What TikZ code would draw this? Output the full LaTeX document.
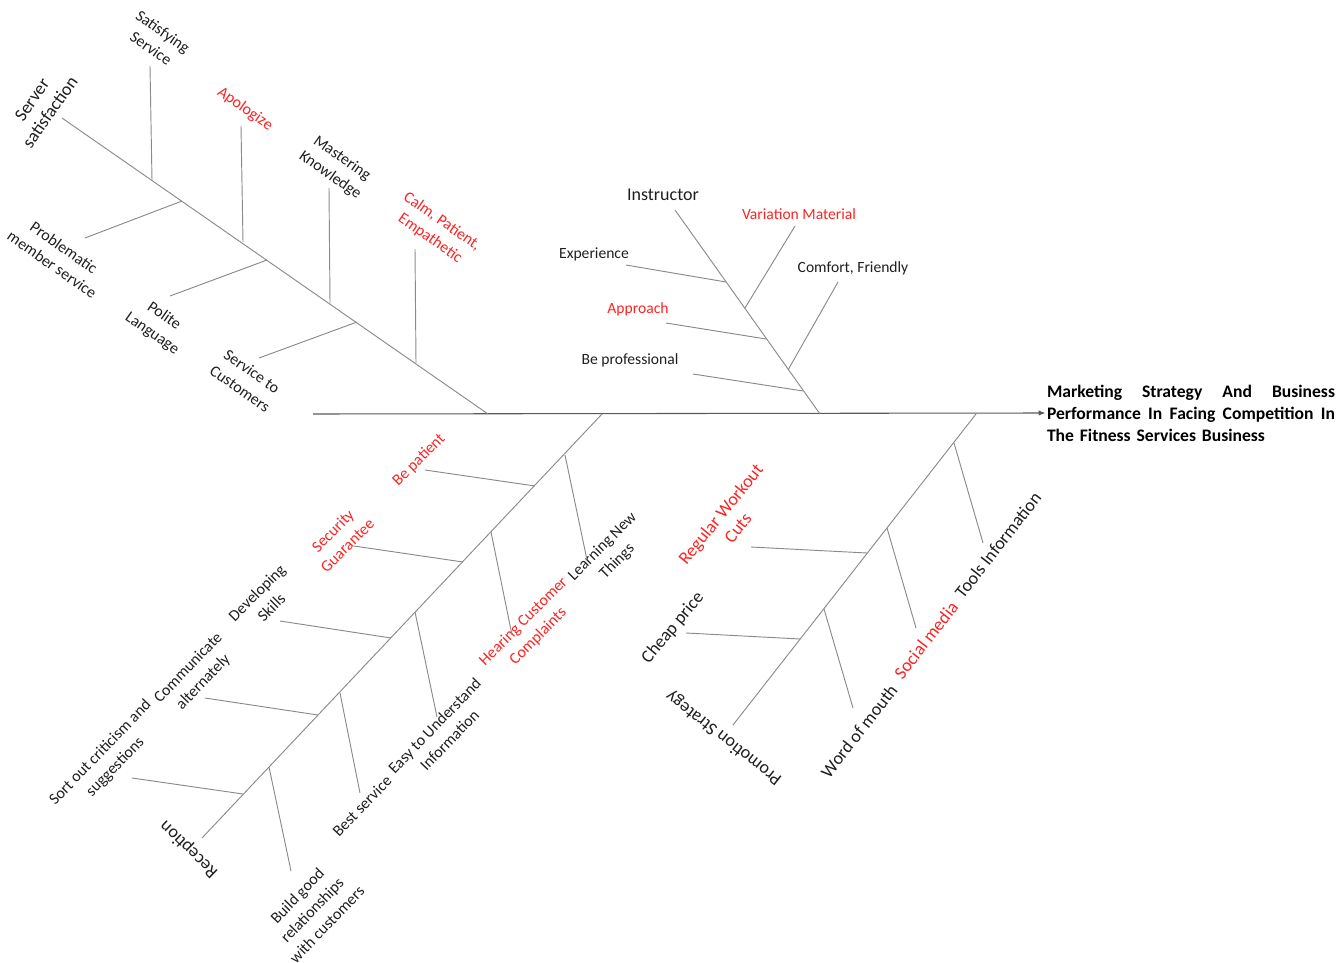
\documentclass[tikz,border=0pt]{standalone}
\usepackage{fontspec}
\setmainfont{Carlito}
\usetikzlibrary{arrows.meta}
\definecolor{spinegray}{HTML}{595959}
\definecolor{bonegray}{HTML}{8A8A8A}
\definecolor{inkgray}{HTML}{1F1F1F}
\definecolor{hotred}{HTML}{FF2222}

\begin{document}
\begin{tikzpicture}[x=0.75pt,y=-0.75pt,
    spine/.style={draw=spinegray,line width=0.8pt},
    bone/.style={draw=bonegray,line width=0.7pt},
    lab/.style={font=\fontsize{12}{15.5}\selectfont,text=inkgray,align=center,inner sep=0pt},
    flat/.style={lab,font=\fontsize{11.7}{14}\selectfont},
    cat/.style={lab,font=\fontsize{13.5}{16.5}\selectfont},
    hot/.style={text=hotred},
    effect/.style={font=\bfseries\fontsize{13.2}{16.5}\selectfont,text=black,
      text width=216pt,align=left,inner sep=0pt}]
  \useasboundingbox (0,0) rectangle (1338,963);

  % spine and head
  \node[effect] (head) at (1191,413)
    {Marketing\hfill Strategy\hfill And\hfill Business\\
     Performance\hfill In\hfill Facing\hfill Competition\hfill In\\
     The Fitness Services Business};
  \path (313,414) coordinate (tail);

  % end points of the bones
  \path
    (488,414) coordinate (srv) (62,118) coordinate (srv0)
    (152,180) coordinate (srv1) (150,66) coordinate (srv1e)
    (243,242) coordinate (srv2) (241,126) coordinate (srv2e)
    (330,303) coordinate (srv3) (329,188) coordinate (srv3e)
    (416,363) coordinate (srv4) (415,249) coordinate (srv4e)
    (182,201) coordinate (srv5) (85,238) coordinate (srv5e)
    (267,260) coordinate (srv6) (170,296) coordinate (srv6e)
    (357,322) coordinate (srv7) (259,358) coordinate (srv7e)
    (820,414) coordinate (ins) (675,210) coordinate (ins0)
    (726,282) coordinate (ins1) (626,265) coordinate (ins1e)
    (766,339) coordinate (ins2) (666,323) coordinate (ins2e)
    (803,391) coordinate (ins3) (693,374) coordinate (ins3e)
    (745,308) coordinate (ins4) (795,226) coordinate (ins4e)
    (788,370) coordinate (ins5) (838,282) coordinate (ins5e)
    (602,414) coordinate (rec) (202,838) coordinate (rec0)
    (535,486) coordinate (rec1) (425,470) coordinate (rec1e)
    (463,562) coordinate (rec2) (354,546) coordinate (rec2e)
    (391,638) coordinate (rec3) (280,621) coordinate (rec3e)
    (318,715) coordinate (rec4) (205,698) coordinate (rec4e)
    (243,794) coordinate (rec5) (132,778) coordinate (rec5e)
    (565,455) coordinate (rec6) (587,560) coordinate (rec6e)
    (491,532) coordinate (rec7) (512,635) coordinate (rec7e)
    (415,612) coordinate (rec8) (437,717) coordinate (rec8e)
    (340,693) coordinate (rec9) (360,793) coordinate (rec9e)
    (269,767) coordinate (rec10) (291,871) coordinate (rec10e)
    (976,414) coordinate (pro) (733,725) coordinate (pro0)
    (867,553) coordinate (pro1) (751,547) coordinate (pro1e)
    (800,639) coordinate (pro2) (686,633) coordinate (pro2e)
    (954,443) coordinate (pro3) (983,543) coordinate (pro3e)
    (887,528) coordinate (pro4) (916,628) coordinate (pro4e)
    (824,609) coordinate (pro5) (853,708) coordinate (pro5e);

  % labels
  \node[cat,rotate=55] (server) at (41,106) {Server\\satisfaction};
  \node[lab,rotate=-35] (satisfying) at (157,40) {Satisfying\\Service};
  \node[lab,hot,rotate=-35] (apologize) at (245,109) {Apologize};
  \node[lab,rotate=-35] (mastering) at (336,167) {Mastering\\Knowledge};
  \node[lab,hot,rotate=-35] (calm) at (436,230) {Calm, Patient,\\Empathetic};
  \node[lab,rotate=-35] (problematic) at (58,256) {Problematic\\member service};
  \node[lab,rotate=-35] (polite) at (158,325) {Polite\\Language};
  \node[lab,rotate=-35] (serviceto) at (246,380) {Service to\\Customers};

  \node[cat] (instructor) at (663,195) {Instructor};
  \node[flat,hot] (variation) at (799,214) {Variation Material};
  \node[flat] (experience) at (594,254) {Experience};
  \node[flat] (comfort) at (853,268) {Comfort, Friendly};
  \node[flat,hot] (approach) at (638,309) {Approach};
  \node[flat] (professional) at (630,360) {Be professional};

  \node[cat,rotate=136] (reception) at (189,849) {Reception};
  \node[lab,hot,rotate=45] (bepatient) at (419,460) {Be patient};
  \node[lab,hot,rotate=45] (security) at (340,538) {Security\\Guarantee};
  \node[lab,rotate=45] (developing) at (264,600) {Developing\\Skills};
  \node[lab,rotate=46] (communicate) at (196,675) {Communicate\\alternately};
  \node[lab,rotate=46] (sortout) at (108,760) {Sort out criticism and\\suggestions};
  \node[lab,rotate=45] (learning) at (610,554) {Learning New\\Things};
  \node[lab,hot,rotate=45] (hearing) at (531,629) {Hearing Customer\\Complaints};
  \node[lab,rotate=46] (easy) at (442,733) {Easy to Understand\\Information};
  \node[lab,rotate=46] (best) at (362,806) {Best service};
  \node[lab,rotate=46] (build) at (312,910) {Build good\\relationships\\with customers};

  \node[cat,rotate=142] (promotion) at (724,738) {Promotion Strategy};
  \node[cat,hot,rotate=51] (regular) at (729,521) {Regular Workout\\Cuts};
  \node[cat,rotate=50] (cheap) at (673,628) {Cheap price};
  \node[cat,rotate=52] (tools) at (998,545) {Tools Information};
  \node[cat,hot,rotate=52] (social) at (926,640) {Social media};
  \node[cat,rotate=52] (word) at (859,731) {Word of mouth};

  \begin{scope}[bone]
    \draw[spine,-{Latex[length=5pt,width=4pt]}] (tail) -- ([xshift=-1pt]head.west);
    \draw (srv0) -- (srv);
    \draw (srv1) -- (srv1e);
    \draw (srv2) -- (srv2e);
    \draw (srv3) -- (srv3e);
    \draw (srv4) -- (srv4e);
    \draw (srv5) -- (srv5e);
    \draw (srv6) -- (srv6e);
    \draw (srv7) -- (srv7e);
    \draw (ins0) -- (ins);
    \draw (ins1) -- (ins1e);
    \draw (ins2) -- (ins2e);
    \draw (ins3) -- (ins3e);
    \draw (ins4) -- (ins4e);
    \draw (ins5) -- (ins5e);
    \draw (rec0) -- (rec);
    \draw (rec1) -- (rec1e);
    \draw (rec2) -- (rec2e);
    \draw (rec3) -- (rec3e);
    \draw (rec4) -- (rec4e);
    \draw (rec5) -- (rec5e);
    \draw (rec6) -- (rec6e);
    \draw (rec7) -- (rec7e);
    \draw (rec8) -- (rec8e);
    \draw (rec9) -- (rec9e);
    \draw (rec10) -- (rec10e);
    \draw (pro0) -- (pro);
    \draw (pro1) -- (pro1e);
    \draw (pro2) -- (pro2e);
    \draw (pro3) -- (pro3e);
    \draw (pro4) -- (pro4e);
    \draw (pro5) -- (pro5e);
  \end{scope}
\end{tikzpicture}
\end{document}
